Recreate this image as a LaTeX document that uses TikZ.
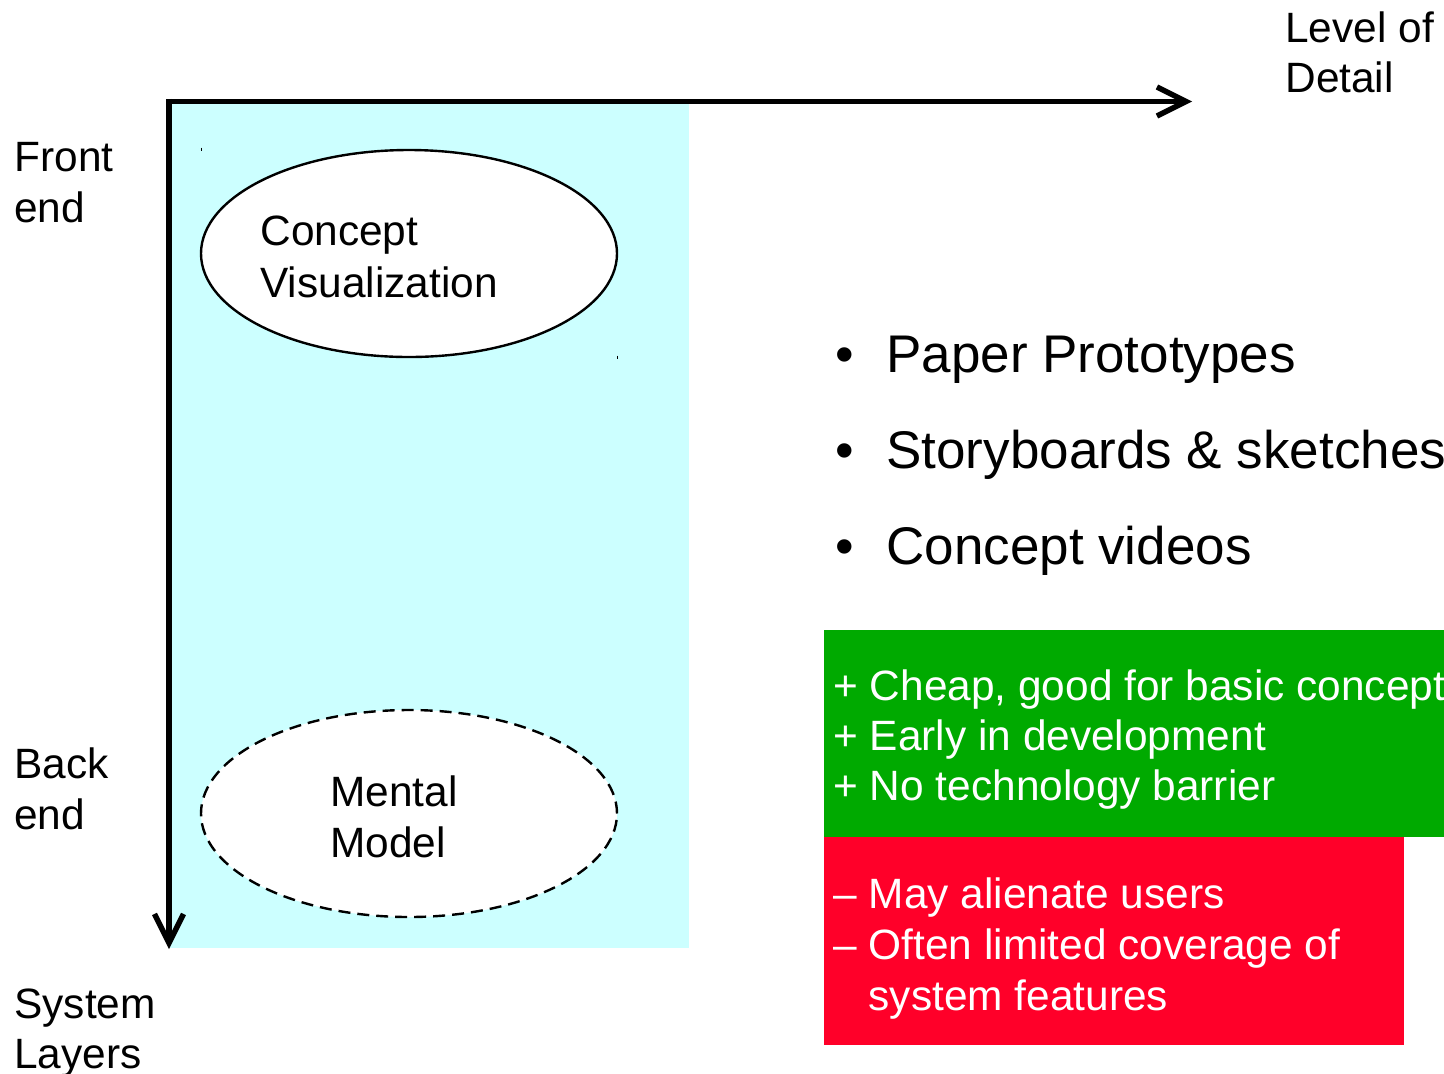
\documentclass[tikz,border=0pt]{standalone}
\usepackage{fontspec}
\setmainfont{Liberation Sans}
\usetikzlibrary{shapes.geometric,arrows.meta}
\definecolor{bgcyan}{RGB}{204,255,255}
\definecolor{progreen}{RGB}{0,170,0}
\definecolor{conred}{RGB}{255,0,41}
\begin{document}
\begin{tikzpicture}[x=0.5pt,y=-0.5pt,
  lbl/.style={anchor=base west, inner sep=0pt, font=\fontsize{21.2}{25.5}\selectfont},
  big/.style={lbl, font=\fontsize{26.5}{32}\selectfont},
  wlbl/.style={lbl, text=white},
  axis/.style={line width=2.7pt, -{Straight Barb[length=14.5pt,width=14.5pt]}},
  oval/.style={ellipse, draw, fill=white, minimum width=208pt, minimum height=103.5pt, inner sep=0pt, line width=1.2pt},
  speck/.style={line width=0.5pt}
]
\useasboundingbox (0,0) rectangle (1444,1073);
\clip (0,0) rectangle (1444,1073);
\fill[white] (0,0) rectangle (1444,1073);
% light cyan panel
\fill[bgcyan] (170,101) rectangle (689,948);
% axes
\coordinate (Oh) at (166.3,101.5);
\coordinate (Ov) at (169,98.8);
\coordinate (X) at (1192,101.5);
\coordinate (Y) at (169,949);
\draw[axis] (Oh) -- (X);
\draw[axis] (Ov) -- (Y);
% ellipses
\node[oval] (cv) at (409,253.5) {};
\node[oval, dash pattern=on 6pt off 3.5pt] (mm) at (409,813.5) {};
\draw[speck] (201,147.5) -- (201,150.5);
\draw[speck] (617,355.5) -- (617,358.5);
% axis labels
\node[lbl] (lod1) at (1285,42) {Level of};
\node[lbl] (lod2) at (1285,92) {Detail};
\node[lbl] (fe1) at (14,171) {Front};
\node[lbl] (fe2) at (14,222) {end};
\node[lbl] (be1) at (14,778) {Back};
\node[lbl] (be2) at (14,829) {end};
\node[lbl] (sl1) at (14,1018) {System};
\node[lbl] (sl2) at (14,1068) {Layers};
% ellipse texts
\node[lbl] (cv1) at (260,245) {Concept};
\node[lbl] (cv2) at (260,297) {Visualization};
\node[lbl] (mm1) at (330,806) {Mental};
\node[lbl] (mm2) at (330,857) {Model};
% bullets
\node[big] (b1) at (835,372) {•};
\node[big] (t1) at (886,372) {Paper Prototypes};
\node[big] (b2) at (835,468) {•};
\node[big] (t2) at (886,468) {Storyboards \& sketches};
\node[big] (b3) at (835,564) {•};
\node[big] (t3) at (886,564) {Concept videos};
% pros / cons boxes
\fill[progreen] (824,630) rectangle (1450,837);
\fill[conred] (824,837) rectangle (1404,1045);
\node[wlbl] (p1) at (833,700) {+ Cheap, good for basic concepts};
\node[wlbl] (p2) at (833,750) {+ Early in development};
\node[wlbl] (p3) at (833,800) {+ No technology barrier};
\node[wlbl] (c1) at (833,908) {– May alienate users};
\node[wlbl] (c2) at (833,959) {– Often limited coverage of};
\node[wlbl] (c3) at (833,1010) {\phantom{– }system features};
\end{tikzpicture}
\end{document}
